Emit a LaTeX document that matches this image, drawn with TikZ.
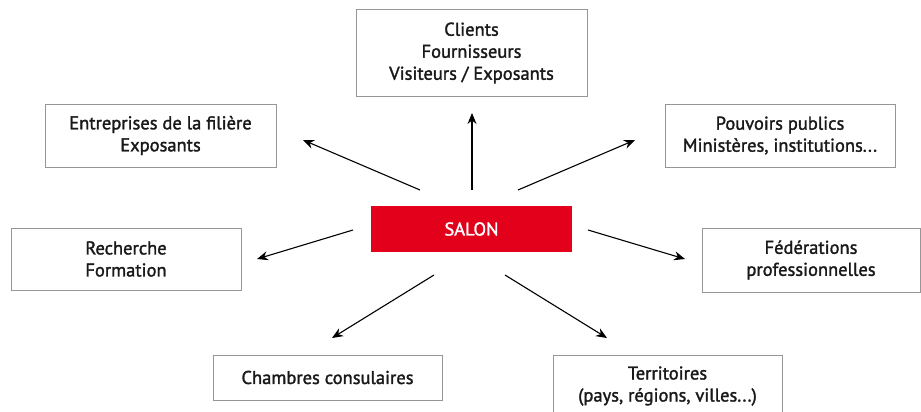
\documentclass[tikz,border=0pt]{standalone}
\usepackage{fontspec}
\setmainfont{PT Sans}
\newfontfamily\medfont[FakeBold=1.6]{PT Sans}
\usetikzlibrary{arrows.meta}
\definecolor{salonred}{RGB}{226,0,26}
\definecolor{boxgray}{RGB}{150,150,150}
\definecolor{txt}{RGB}{25,25,25}
\tikzset{
  partner/.style={draw=boxgray, line width=1pt, fill=white, text=txt, align=center,
    font=\medfont\fontsize{18.5}{22}\selectfont, inner sep=0pt},
  salonbox/.style={fill=salonred, text=white, font=\medfont\fontsize{18.5}{22}\selectfont,
    minimum width=201pt, minimum height=46pt, inner sep=0pt},
  link/.style={draw=black, line width=1.1pt, -{Stealth[length=11pt,width=9pt]}}
}
\begin{document}
\begin{tikzpicture}[x=1pt,y=-1pt]
\useasboundingbox (0,0) rectangle (921,412);
\node[salonbox] (salon) at (471.5,229) {SALON};
\node[partner, minimum width=231pt, minimum height=86pt] (clients) at (471.5,53) {Clients\\Fournisseurs\\Visiteurs / Exposants};
\node[partner, minimum width=231pt, minimum height=63pt] (entr) at (160.5,135.5) {Entreprises de la filière\\Exposants};
\node[partner, minimum width=230pt, minimum height=63pt] (pouv) at (780,135.5) {Pouvoirs publics\\Ministères, institutions...};
\node[partner, minimum width=230pt, minimum height=62pt] (rech) at (126,259) {Recherche\\Formation};
\node[partner, minimum width=218pt, minimum height=64pt] (fed) at (811,260) {Fédérations\\professionnelles};
\node[partner, minimum width=229pt, minimum height=45pt] (chamb) at (327.5,377.5) {Chambres consulaires};
\node[partner, minimum width=229pt, minimum height=62pt] (terr) at (667.5,386) {Territoires\\(pays, régions, villes...)};
% arrow end points
\coordinate (sU) at (472,190);   \coordinate (eU) at (472,113);
\coordinate (sUL) at (420,190);  \coordinate (eUL) at (303,140);
\coordinate (sUR) at (518,190);  \coordinate (eUR) at (635,140);
\coordinate (sL) at (353,230);   \coordinate (eL) at (257,259);
\coordinate (sR) at (588,230);   \coordinate (eR) at (685,259);
\coordinate (sDL) at (434,275);  \coordinate (eDL) at (332,338);
\coordinate (sDR) at (505,275);  \coordinate (eDR) at (607,338);
\draw[link] (sU) -- (eU);
\draw[link] (sUL) -- (eUL);
\draw[link] (sUR) -- (eUR);
\draw[link] (sL) -- (eL);
\draw[link] (sR) -- (eR);
\draw[link] (sDL) -- (eDL);
\draw[link] (sDR) -- (eDR);
\end{tikzpicture}
\end{document}
